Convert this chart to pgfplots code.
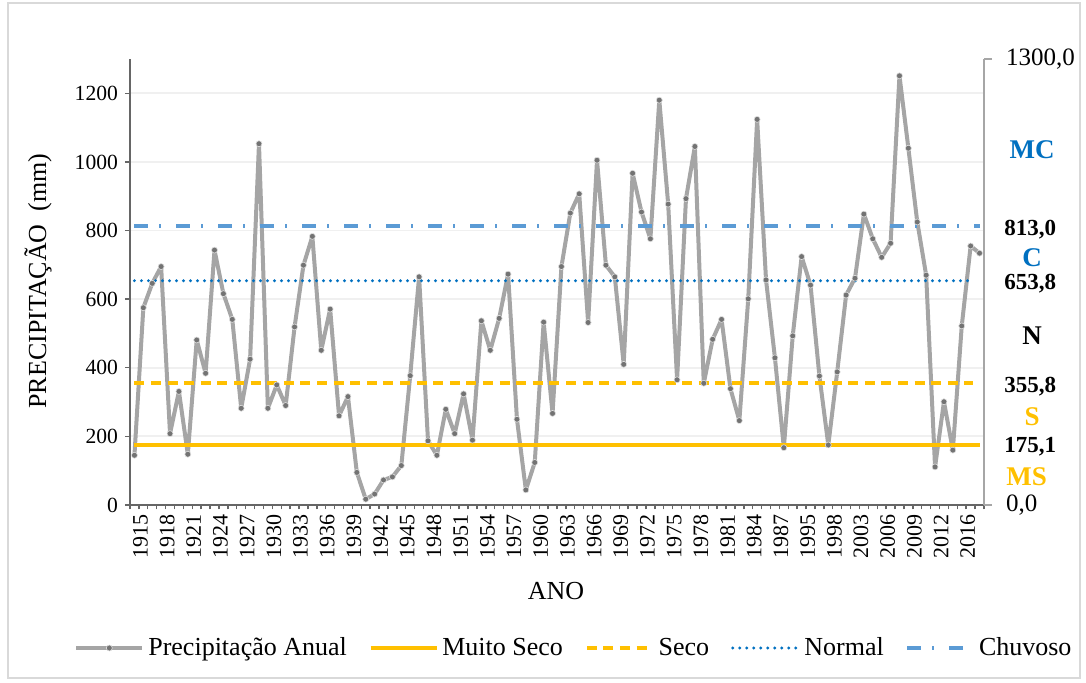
\documentclass[border=0pt]{standalone}
\usepackage{pgfplots}
\usepackage{pgfplotstable}
\pgfplotsset{compat=1.18}
\usepackage{fontspec}
\setmainfont{Liberation Serif}
\definecolor{serie}{HTML}{A5A5A5}
\definecolor{gold}{HTML}{FFC000}
\definecolor{nblue}{HTML}{0070C0}
\definecolor{cblue}{HTML}{5B9BD5}
\pgfplotstableread{
x y
0 145
1 575
2 646
3 695
4 208
5 331
6 148
7 481
8 384
9 743
10 616
11 541
12 282
13 425
14 1053
15 282
16 350
17 290
18 519
19 699
20 783
21 451
22 571
23 260
24 316
25 95
26 17
27 32
28 73
29 82
30 115
31 377
32 665
33 187
34 145
35 279
36 208
37 324
38 189
39 537
40 451
41 544
42 673
43 250
44 44
45 124
46 533
47 267
48 695
49 851
50 907
51 532
52 1005
53 699
54 665
55 410
56 967
57 854
58 776
59 1180
60 877
61 365
62 893
63 1045
64 355
65 483
66 541
67 339
68 246
69 601
70 1124
71 656
72 429
73 167
74 493
75 724
76 641
77 376
78 175
79 388
80 612
81 661
82 848
83 776
84 722
85 763
86 1251
87 1040
88 825
89 670
90 111
91 301
92 160
93 522
94 755
95 734
}\precip
\begin{document}
\begin{tikzpicture}
\useasboundingbox (-65pt,-88.5pt) rectangle (478pt,252.5pt);
\draw[gray!30, line width=1pt] (-61pt,-86.5pt) rectangle (475pt,251pt);
\begin{axis}[
  at={(0,0)}, anchor=south west,
  scale only axis, width=427pt, height=223pt,
  xmin=-0.5, xmax=95.5, ymin=0, ymax=1300,
  axis y line*=left, axis x line*=bottom,
  axis line style={black!60, line width=0.8pt},
  tick align=outside,
  major tick length=2.5pt,
  minor tick length=2.2pt,
  tick style={black!60, line width=0.7pt},
  ytick={0,200,...,1200},
  yticklabel style={font=\fontsize{10.8}{12}\selectfont},
  /pgf/number format/assume math mode=true,
  /pgf/number format/1000 sep={},
  ymajorgrids,
  grid style={gray!12, line width=0.9pt},
  xtick={0,3,...,93},
  xticklabels={1915,1918,1921,1924,1927,1930,1933,1936,1939,1942,1945,1948,1951,1954,1957,1960,1963,1966,1969,1972,1975,1978,1981,1984,1987,1995,1998,2003,2006,2009,2012,2016},
  every major x tick/.append style={draw opacity=0},
  minor xtick={-0.5,0.5,...,95.5},
  xticklabel style={rotate=90, anchor=east, font=\fontsize{11}{12}\selectfont, inner sep=2pt, yshift=-3pt},
  clip=false,
  legend style={draw=none, fill=none, at={(axis description cs:0.521,-0.3206)}, anchor=center,
     font=\fontsize{13}{15}\selectfont, legend columns=5,
     /tikz/every even column/.append style={column sep=9pt},
     /tikz/every odd column/.append style={column sep=0pt}},
  legend image code/.code={\draw[mark repeat=2, mark phase=2, #1] plot coordinates {(0pt,0pt) (16.5pt,0pt) (33pt,0pt)};},
]
\addplot[serie, line width=2pt, line join=round, mark=*, mark size=1.5pt,
  mark options={fill=black!55, draw=white!75!gray, line width=0.3pt, solid}]
  table[x=x,y=y]{\precip};
\addlegendentry{Precipitação Anual}
\addplot[gold, line width=1.7pt] coordinates {(0,175.1) (95,175.1)};
\addlegendentry{Muito Seco}
\addplot[gold, line width=1.9pt, dash pattern=on 5pt off 3.3pt] coordinates {(0,355.8) (94.3,355.8)};
\addlegendentry{Seco}
\addplot[nblue, line width=1.6pt, line cap=round, dash pattern=on 0pt off 3.5pt] coordinates {(0,653.8) (94.3,653.8)};
\addlegendentry{Normal}
\addplot[cblue, line width=1.6pt, dash pattern=on 7pt off 5.5pt on 1pt off 7.5pt] coordinates {(0,813) (95,813)};
\addlegendentry{Chuvoso}
\end{axis}
\begin{axis}[
  at={(0,0)}, anchor=south west,
  scale only axis, width=427pt, height=223pt,
  xmin=-0.5, xmax=95.5, ymin=0, ymax=1300,
  axis y line*=right, axis x line=none,
  axis line style={gray!70, line width=0.8pt},
  tick align=outside, major tick length=4pt,
  tick style={gray!70, line width=0.7pt},
  ytick={0,1300}, yticklabels={{0,0},{1300,0}},
  yticklabel style={font=\fontsize{12.5}{14}\selectfont, anchor=west, xshift=3.5pt},
  clip=false,
]
\path[font=\bfseries\fontsize{11.5}{13}\selectfont]
  (axis cs:100.7,803) node {813,0}
  (axis cs:100.7,646) node {653,8}
  (axis cs:100.7,345) node {355,8}
  (axis cs:100.7,170) node {175,1};
\path[font=\bfseries\fontsize{13.5}{15}\selectfont]
  (axis cs:100.9,1035) node[text=nblue] {MC}
  (axis cs:100.9,720) node[text=nblue] {C}
  (axis cs:100.9,495) node {N}
  (axis cs:100.9,257) node[text=gold] {S}
  (axis cs:100.3,82) node[text=gold] {MS};
\end{axis}
\node[rotate=90, font=\fontsize{13}{15}\selectfont] at (-46pt,112pt) {PRECIPITAÇÃO\ \ (mm)};
\node[font=\fontsize{13}{15}\selectfont] at (213pt,-43pt) {ANO};
\end{tikzpicture}
\end{document}
